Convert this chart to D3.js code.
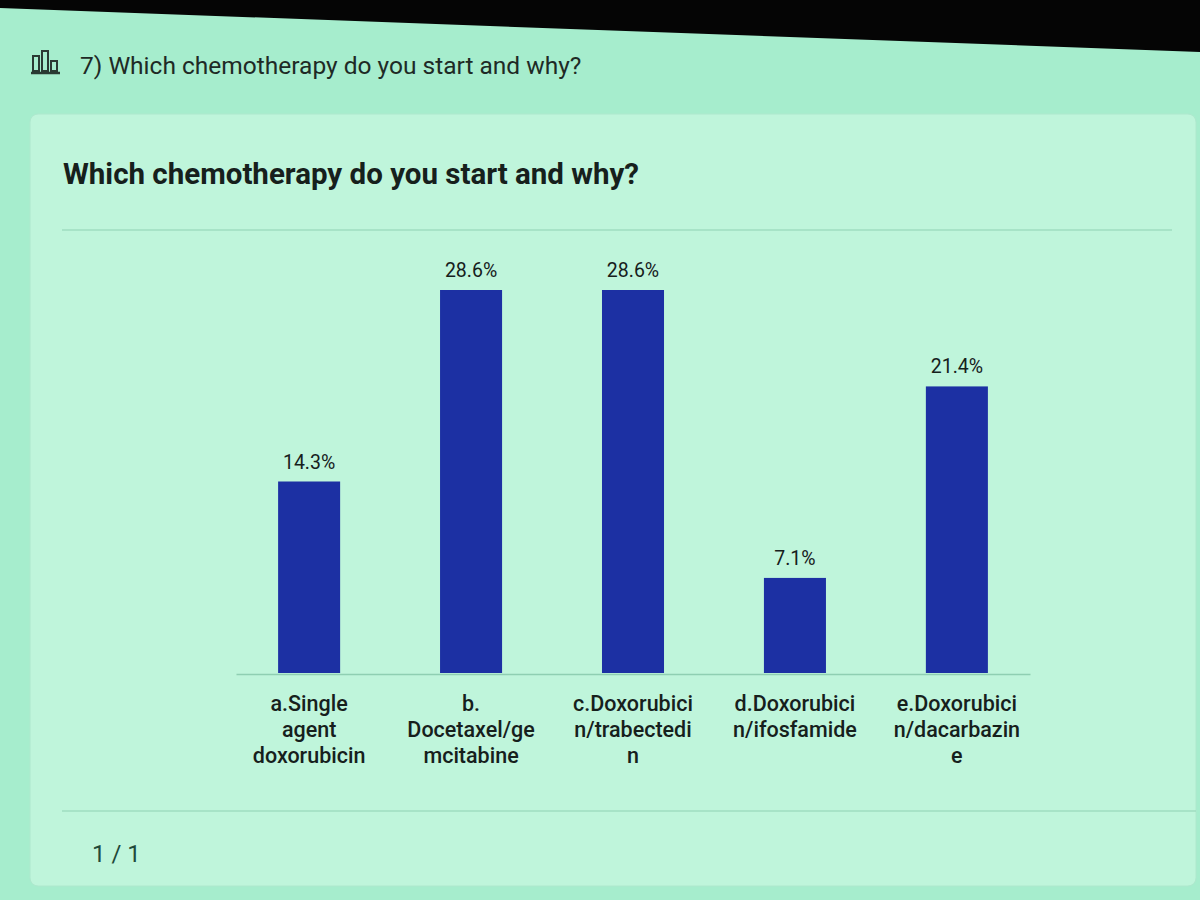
<!DOCTYPE html>
<html>
<head>
<meta charset="utf-8">
<script src="https://cdn.jsdelivr.net/npm/d3@7"></script>
<style>
  body { margin: 0; background: #a6edcd; }
  svg { display: block; font-family: Roboto, "Noto Sans", sans-serif; }
</style>
</head>
<body>
<div id="chart"></div>
<script>
let width = 1200, height = 900

// DATA
let categories = ['a', 'b', 'c', 'd', 'e']
let labelLines = [
  ['a.Single', 'agent', 'doxorubicin'],
  ['b.', 'Docetaxel/ge', 'mcitabine'],
  ['c.Doxorubici', 'n/trabectedi', 'n'],
  ['d.Doxorubici', 'n/ifosfamide'],
  ['e.Doxorubici', 'n/dacarbazin', 'e']
]
let values = [14.3, 28.6, 28.6, 7.1, 21.4]

let margin = { top: 290, bottom: 226, left: 236, right: 170 }

let svg = d3.select('#chart')
  .append('svg')
  .attr('width', width)
  .attr('height', height)

// screen background + black bezel at top
svg.append('rect')
  .attr('width', width).attr('height', height)
  .attr('fill', '#a6edcd')
svg.append('path')
  .attr('d', 'M0,0 L1200,0 L1200,52 L0,8 Z')
  .attr('fill', '#050505')

// header icon
svg.append('g')
  .attr('transform', 'translate(33,50)')
  .selectAll('rect')
  .data([[0, 6, 15], [9, 1, 20], [18, 11, 10]])
  .enter().append('rect')
    .attr('x', d => d[0])
    .attr('y', d => d[1])
    .attr('width', 6)
    .attr('height', d => d[2])
    .attr('fill', 'none')
    .attr('stroke', '#2a3a33')
    .attr('stroke-width', 2)
svg.append('line')
  .attr('x1', 31).attr('x2', 60).attr('y1', 73).attr('y2', 73)
  .attr('stroke', '#2a3a33').attr('stroke-width', 2.5)

svg.append('text')
  .attr('x', 80).attr('y', 74)
  .text('7) Which chemotherapy do you start and why?')
  .style('font-size', '24.5px')
  .attr('fill', '#1e2a25')

// card
svg.append('rect')
  .attr('x', 30).attr('y', 114)
  .attr('width', 1166).attr('height', 772)
  .attr('rx', 8)
  .attr('fill', '#bff5db')
  .attr('stroke', '#aee8cd')

svg.append('text')
  .attr('x', 63).attr('y', 184)
  .text('Which chemotherapy do you start and why?')
  .style('font-size', '29.5px')
  .style('font-weight', 'bold')
  .attr('fill', '#16201c')

svg.append('line')
  .attr('x1', 62).attr('x2', 1172).attr('y1', 230).attr('y2', 230)
  .attr('stroke', '#9fdcc0').attr('stroke-width', 1.5)

svg.append('line')
  .attr('x1', 62).attr('x2', 1196).attr('y1', 811).attr('y2', 811)
  .attr('stroke', '#9fdcc0').attr('stroke-width', 1.5)

svg.append('text')
  .attr('x', 92).attr('y', 862)
  .text('1 / 1')
  .style('font-size', '24px')
  .attr('fill', '#1f4a3a')

// SCALES
let x = d3.scaleBand()
  .domain(categories)
  .range([margin.left, width - margin.right])
  .paddingInner(0.617)
  .paddingOuter(0.26)

let y = d3.scaleLinear()
  .domain([0, 28.6])
  .range([height - margin.bottom - 1, margin.top])

let plot = svg.append('g')

// baseline
plot.append('g')
  .attr('transform', 'translate(0,' + (height - margin.bottom) + ')')
  .call(d3.axisBottom(x).tickSize(0).tickFormat(''))
  .call(g => g.select('.domain')
    .attr('stroke', '#8fcfb2')
    .attr('stroke-width', 1.5))

plot.selectAll('.bar')
  .data(values)
  .enter().append('rect')
    .attr('class', 'bar')
    .attr('x', (d, i) => x(categories[i]))
    .attr('y', d => y(d))
    .attr('width', x.bandwidth())
    .attr('height', d => y(0) - y(d))
    .attr('fill', '#1c30a3')

plot.selectAll('.value')
  .data(values)
  .enter().append('text')
    .attr('class', 'value')
    .attr('x', (d, i) => x(categories[i]) + x.bandwidth() / 2)
    .attr('y', d => y(d) - 13)
    .style('text-anchor', 'middle')
    .style('font-size', '19.5px')
    .attr('fill', '#16201c')
    .text(d => d.toFixed(1) + '%')

let labels = plot.selectAll('.cat')
  .data(labelLines)
  .enter().append('text')
    .attr('class', 'cat')
    .attr('x', (d, i) => x(categories[i]) + x.bandwidth() / 2)
    .attr('y', height - margin.bottom + 37)
    .style('text-anchor', 'middle')
    .style('font-size', '21.5px')
    .style('font-weight', 500)
    .attr('fill', '#16201c')

labels.selectAll('tspan')
  .data((d, i) => d.map(t => ({ t: t, i: i })))
  .enter().append('tspan')
    .attr('x', d => x(categories[d.i]) + x.bandwidth() / 2)
    .attr('dy', (d, j) => j === 0 ? 0 : 26)
    .text(d => d.t)
</script>
</body>
</html>
